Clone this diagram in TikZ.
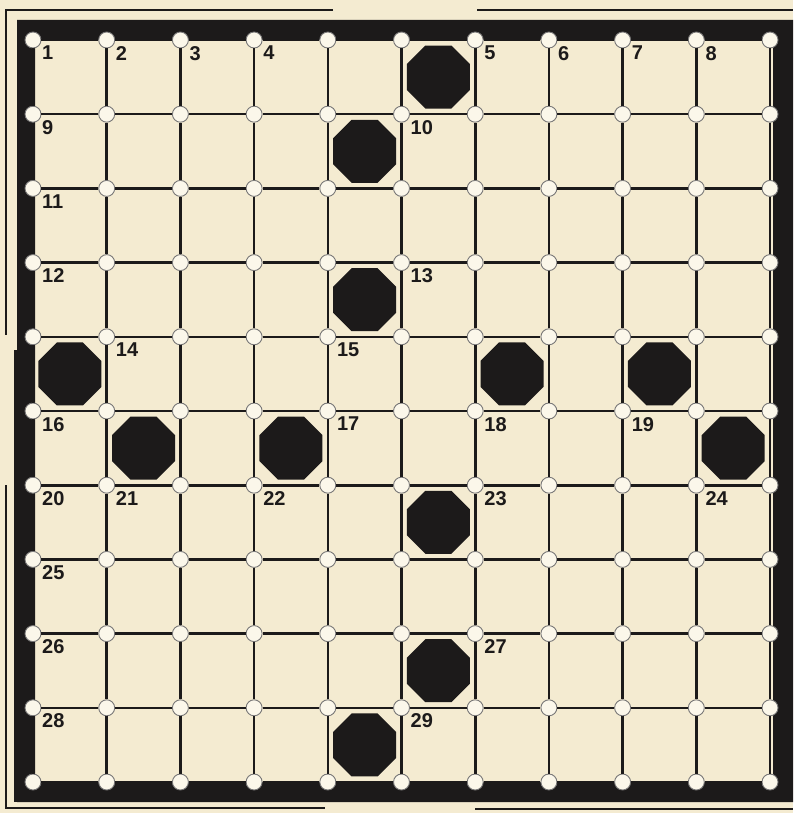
\documentclass[tikz,border=0pt]{standalone}
\usepackage{fontspec}
\setmainfont{Liberation Sans}
\definecolor{paper}{HTML}{F4EBD1}
\definecolor{ink}{HTML}{1C1A1A}
\definecolor{dotc}{HTML}{FBF7EA}
\begin{document}
\begin{tikzpicture}[x=1pt,y=-1pt,
  gridline/.style={ink, line width=2.6pt},
  dotnode/.style={circle, fill=dotc, draw=ink!60, line width=0.9pt, minimum size=16pt, inner sep=0pt},
  numlabel/.style={anchor=north west, font=\fontsize{20}{20}\selectfont\bfseries, text=ink, inner sep=0pt},
  thinline/.style={ink, line width=2.6pt},
  blackcell/.style={fill=ink}]
\fill[paper] (0,0) rectangle (793,813);
\useasboundingbox (0,0) rectangle (793,813);
% thin outer lines
\draw[thinline] (333,10) -- (6,10) -- (6,335);
\draw[thinline] (477,10) -- (793,10);
\draw[thinline] (6,485) -- (6,808) -- (325,808);
\draw[thinline] (475,809) -- (793,809);
% thick frame
\fill[ink, even odd rule] (17,20) rectangle (793,802) (35,40) rectangle (773,782);
\fill[ink] (14,350) rectangle (20,802);
% dots
\foreach \i in {0,...,10}
  \foreach \j in {0,...,10}
    \node[dotnode] (d-\i-\j) at ({33+73.7*\i},{40+74.2*\j}) {};
% grid lines
\foreach \i [count=\ni from 1] in {0,...,9}
  \foreach \j in {0,...,10}
    \draw[gridline] (d-\i-\j) -- (d-\ni-\j);
\foreach \j [count=\nj from 1] in {0,...,9}
  \foreach \i in {0,...,10}
    \draw[gridline] (d-\i-\j) -- (d-\i-\nj);
% black octagons
\foreach \c/\r in {5/0,4/1,4/3,0/4,6/4,8/4,1/5,3/5,9/5,5/6,5/8,4/9}
  \fill[blackcell, shift={({33+73.7*(\c+0.5)},{40+74.2*(\r+0.5)})}]
    (-13,-31.5) -- (13,-31.5) -- (31.5,-13) -- (31.5,13) -- (13,31.5)
    -- (-13,31.5) -- (-31.5,13) -- (-31.5,-13) -- cycle;
% numbers
\foreach \n/\i/\j in {1/0/0,2/1/0,3/2/0,4/3/0,5/6/0,6/7/0,7/8/0,8/9/0,
  9/0/1,10/5/1,11/0/2,12/0/3,13/5/3,14/1/4,15/4/4,
  16/0/5,17/4/5,18/6/5,19/8/5,20/0/6,21/1/6,22/3/6,23/6/6,24/9/6,
  25/0/7,26/0/8,27/6/8,28/0/9,29/5/9}
  \node[numlabel] (n\n) at ([shift={(9,6)}]d-\i-\j.center) {\n};
\end{tikzpicture}
\end{document}
